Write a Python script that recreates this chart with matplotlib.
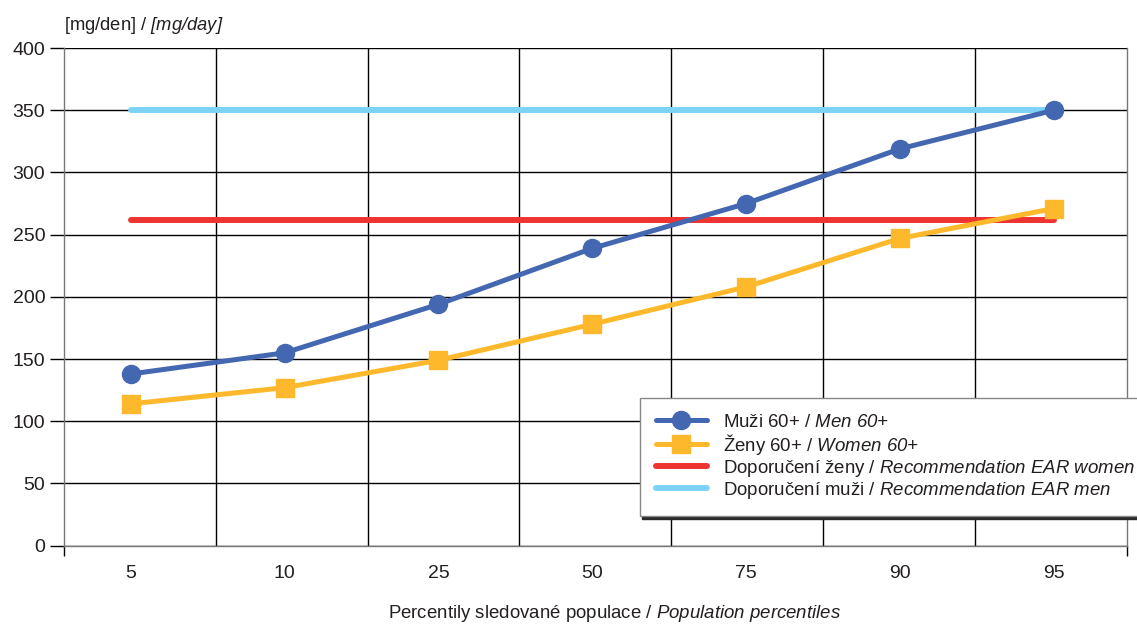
import matplotlib
matplotlib.use("Agg")
import matplotlib.pyplot as plt
import numpy as np

plt.rcParams["font.family"] = ["Liberation Sans", "DejaVu Sans"]
# math segments are used only for the italic English parts of labels
plt.rcParams["mathtext.fontset"] = "custom"
plt.rcParams["mathtext.rm"] = "Liberation Sans:italic"
plt.rcParams["mathtext.it"] = "Liberation Sans:italic"
plt.rcParams["mathtext.bf"] = "Liberation Sans:bold"
plt.rcParams["text.color"] = "#231f20"

# percentiles and intakes [mg/day]
percentiles = ["5", "10", "25", "50", "75", "90", "95"]
men = [138, 155, 194, 239, 275, 319, 350]
women = [114, 127, 149, 178, 208, 247, 271]
ear_women = 262
ear_men = 350

blue = "#4467b1"
orange = "#fdb92b"
red = "#ee3431"
light_blue = "#7dd3f6"
ink = "#231f20"

fig = plt.figure(figsize=(11.37, 6.26), dpi=100)
ax = fig.add_axes([0.0563, 0.1283, 0.9347, 0.795])

n = len(percentiles)
x = 0.44 + 1.0133 * np.arange(n)

ax.set_xlim(0, n)
ax.set_ylim(0, 400)

# category boundaries
for b in range(1, n):
    ax.axvline(b, color="black", lw=1.0, zorder=0.6)
ax.set_yticks(np.arange(0, 401, 50))
ax.yaxis.grid(True, color="black", lw=1.0)
ax.set_axisbelow(True)

ax.plot([x[0], x[-1]], [ear_women] * 2, color=red, lw=4.3,
        solid_capstyle="round", zorder=2,
        label=r"Doporučení ženy / $\mathrm{Recommendation\ EAR\ women}$")
ax.plot([x[0], x[-1]], [ear_men] * 2, color=light_blue, lw=4.3,
        solid_capstyle="round", zorder=2,
        label=r"Doporučení muži / $\mathrm{Recommendation\ EAR\ men}$")
ax.plot(x, men, color=blue, lw=3.6, marker="o", ms=13, zorder=3,
        solid_capstyle="round", label=r"Muži 60+ / $\mathrm{Men\ 60{+}}$")
ax.plot(x, women, color=orange, lw=3.6, marker="s", ms=13.5, zorder=3,
        solid_capstyle="round", label=r"Ženy 60+ / $\mathrm{Women\ 60{+}}$")

for side in ["left", "bottom", "right"]:
    ax.spines[side].set_color("#777777")
    ax.spines[side].set_linewidth(1.0)
ax.spines["top"].set_visible(False)

ax.set_xticks(x, percentiles)
ax.tick_params(axis="x", which="major", length=0, pad=14, labelsize=14,
               labelcolor=ink)
ax.set_xticks([0, n], minor=True)
ax.tick_params(axis="x", which="minor", length=7, width=1.0,
               color="black", direction="out")
ax.tick_params(axis="y", length=10, width=1.0, color="black", pad=3.5,
               labelsize=14, labelcolor=ink)

fig.text(615 / 1137, 1 - 614 / 626,
         r"Percentily sledované populace / $\mathrm{Population\ percentiles}$",
         fontsize=13.4, ha="center", va="center", color=ink)

fig.text(64 / 1137, 1 - 26 / 626, r"[mg/den] / $\mathrm{[mg/day]}$",
         fontsize=13.2, ha="left", va="center", color=ink)

handles, labels = ax.get_legend_handles_labels()
order = [2, 3, 0, 1]
leg = ax.legend([handles[i] for i in order], [labels[i] for i in order],
                loc="upper left", bbox_to_anchor=(640 / 1137, 1 - 398 / 626),
                bbox_transform=fig.transFigure, borderaxespad=0,
                fontsize=13.4, handlelength=2.75, handletextpad=0.85,
                labelspacing=0.05, borderpad=0.85, fancybox=False,
                framealpha=1, edgecolor="#888888",
                shadow={"color": "#2a2a2a", "alpha": 1, "ox": 1.2, "oy": -1.8})
leg.get_frame().set_linewidth(1.0)
leg.set_zorder(5)

fig.savefig("out.png", dpi=100)
